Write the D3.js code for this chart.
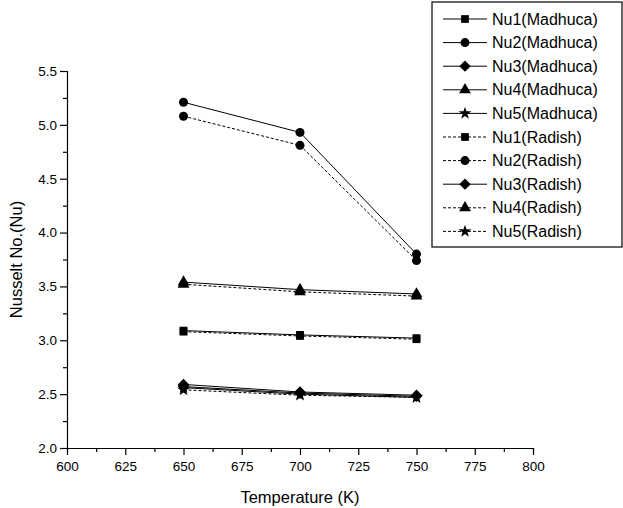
<!DOCTYPE html>
<html><head><meta charset="utf-8">
<script src="https://cdn.jsdelivr.net/npm/d3@7"></script>
<style>body{margin:0;background:#fff}svg{display:block}text{font-family:"Liberation Sans",Arial,sans-serif;fill:#000}</style>
</head><body><svg id="c" width="623" height="508"></svg>
<script>
const temps = [650, 700, 750];
const nu1Madhuca = [3.09, 3.05, 3.02];
const nu2Madhuca = [5.21, 4.93, 3.80];
const nu3Madhuca = [2.59, 2.52, 2.49];
const nu4Madhuca = [3.54, 3.47, 3.43];
const nu5Madhuca = [2.56, 2.50, 2.47];
const nu1Radish = [3.08, 3.04, 3.01];
const nu2Radish = [5.08, 4.81, 3.74];
const nu3Radish = [2.57, 2.51, 2.48];
const nu4Radish = [3.52, 3.45, 3.41];
const nu5Radish = [2.54, 2.49, 2.47];
const seriesNames = ["Nu1(Madhuca)","Nu2(Madhuca)","Nu3(Madhuca)","Nu4(Madhuca)","Nu5(Madhuca)",
  "Nu1(Radish)","Nu2(Radish)","Nu3(Radish)","Nu4(Radish)","Nu5(Radish)"];
const seriesValues = [nu1Madhuca,nu2Madhuca,nu3Madhuca,nu4Madhuca,nu5Madhuca,
  nu1Radish,nu2Radish,nu3Radish,nu4Radish,nu5Radish];
const seriesSymbols = ["square","circle","diamond","triangle","star","square","circle","diamond","triangle","star"];
const seriesDashed = [false,false,false,false,false,true,true,false,true,true];
const xTicks = [600,625,650,675,700,725,750,775,800];
const yTicks = [2.0,2.5,3.0,3.5,4.0,4.5,5.0,5.5];

const svg = d3.select("#c");
const L=67, R=533, T=71, B=448;
const x = d3.scaleLinear().domain([600,800]).range([L,R]);
const y = d3.scaleLinear().domain([2.0,5.5]).range([B,T]);

const diamondType = {draw(ctx,size){const r=Math.sqrt(size/2);ctx.moveTo(0,-r);ctx.lineTo(r,0);ctx.lineTo(0,r);ctx.lineTo(-r,0);ctx.closePath();}};
const symMap = {square:[d3.symbolSquare,60], circle:[d3.symbolCircle,64], diamond:[diamondType,64], triangle:[d3.symbolTriangle,60], star:[d3.symbolStar,50]};
function sym(name){ const s=symMap[name]; return d3.symbol().type(s[0]).size(s[1])(); }

// axes
const xMinor = d3.range(600, 800.1, 12.5);
const gx = svg.append("g").attr("transform",`translate(0,${B})`);
gx.call(d3.axisBottom(x).tickValues(xMinor).tickSize(4).tickFormat(""));
gx.call(g=>g.selectAll(".tick").filter(d=>xTicks.includes(d)).select("line").attr("y2",7));
gx.selectAll(".tick text").remove();
svg.append("g").attr("transform",`translate(0,${B})`)
  .call(d3.axisBottom(x).tickValues(xTicks).tickSize(0).tickPadding(13).tickFormat(d3.format("d")))
  .call(g=>{g.select(".domain").remove(); g.selectAll("text").attr("font-size",13.5);});
const yMinor = d3.range(2.0, 5.51, 0.25);
const gy = svg.append("g").attr("transform",`translate(${L},0)`);
gy.call(d3.axisLeft(y).tickValues(yMinor).tickSize(4).tickFormat(""));
gy.call(g=>g.selectAll(".tick").filter(d=>yTicks.some(t=>Math.abs(t-d)<1e-6)).select("line").attr("x2",-7));
svg.append("g").attr("transform",`translate(${L},0)`)
  .call(d3.axisLeft(y).tickValues(yTicks).tickSize(0).tickPadding(10).tickFormat(d3.format(".1f")))
  .call(g=>{g.select(".domain").remove(); g.selectAll("text").attr("font-size",13.5);});
svg.selectAll(".domain,.tick line").attr("stroke","#000").attr("stroke-width",1.2);

svg.append("text").attr("x",(L+R)/2).attr("y",503).attr("text-anchor","middle").attr("font-size",16.5).text("Temperature (K)");
svg.append("text").attr("transform",`translate(22,${(T+B)/2}) rotate(-90)`).attr("text-anchor","middle").attr("font-size",16.5).text("Nusselt No.(Nu)");

// series
const line = d3.line().x((d,i)=>x(temps[i])).y(d=>y(d));
seriesValues.forEach((vals,k)=>{
  svg.append("path").attr("d",line(vals)).attr("fill","none").attr("stroke","#000").attr("stroke-width",1)
    .attr("stroke-dasharray",seriesDashed[k]?"3,2":null);
  svg.selectAll(null).data(vals).enter().append("path")
    .attr("d",sym(seriesSymbols[k]))
    .attr("transform",(d,i)=>`translate(${x(temps[i])},${y(d)})`).attr("fill","#000");
});

// legend
const lg = svg.append("g");
const lx=432, ly=2, lw=190, lh=245;
lg.append("rect").attr("x",lx).attr("y",ly).attr("width",lw).attr("height",lh).attr("fill","#fff").attr("stroke","#000").attr("stroke-width",1.2);
seriesNames.forEach((n,k)=>{
  const yy = ly+17+k*23.6;
  lg.append("line").attr("x1",443).attr("x2",487).attr("y1",yy).attr("y2",yy).attr("stroke","#000").attr("stroke-width",1)
    .attr("stroke-dasharray",seriesDashed[k]?"3,2":null);
  lg.append("path").attr("d",sym(seriesSymbols[k])).attr("transform",`translate(465,${yy})`).attr("fill","#000");
  lg.append("text").attr("x",492).attr("y",yy+5.5).attr("font-size",16).text(n);
});
</script></body></html>
